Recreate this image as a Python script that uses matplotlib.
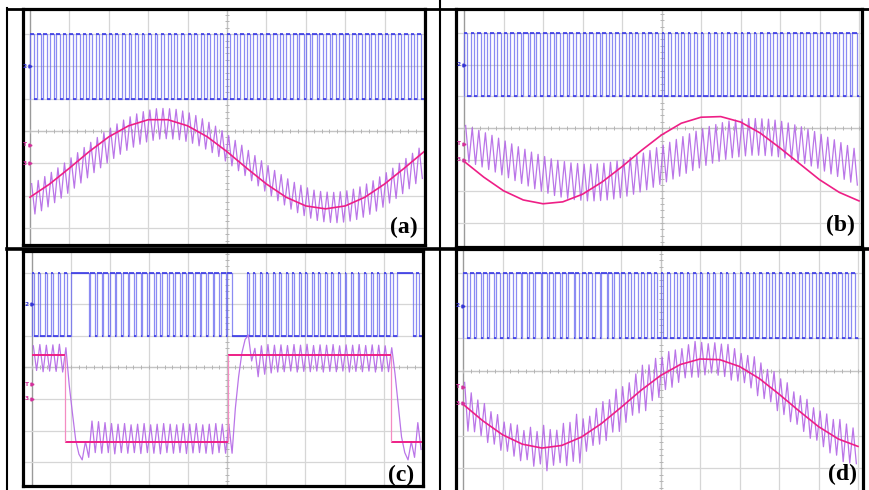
import numpy as np
import matplotlib.pyplot as plt
from matplotlib.lines import Line2D

# ---- data (scope divisions) ----
t_ref = [0.5 * i for i in range(21)]          # reference sampled every 0.5 div

ref_a = [-2.05, -1.64, -1.15, -0.64, -0.18, 0.16, 0.35, 0.35, 0.16, -0.18, -0.64,
         -1.15, -1.64, -2.05, -2.32, -2.41, -2.32, -2.05, -1.64, -1.15, -0.64]
ref_b = [-1.05, -1.55, -1.98, -2.27, -2.39, -2.33, -2.09, -1.70, -1.22, -0.70, -0.22,
         0.15, 0.34, 0.36, 0.19, -0.16, -0.63, -1.13, -1.63, -2.03, -2.30]
ref_d = [-1.03, -1.54, -1.97, -2.26, -2.38, -2.30, -2.04, -1.63, -1.13, -0.61, -0.15,
         0.19, 0.36, 0.34, 0.13, -0.24, -0.72, -1.23, -1.72, -2.10, -2.33]

# (c): square reference, switching times and levels
ref_c_t = [0.0, 0.86, 5.01, 9.19, 10.0]
ref_c_lv = [0.39, -2.37, 0.39, -2.37]

# output current: mid value of each of the 60 ripple cycles
cur_a = [-2.10, -2.00, -1.88, -1.75, -1.61, -1.46, -1.30, -1.14, -0.98, -0.82,
         -0.67, -0.52, -0.38, -0.25, -0.13, -0.03, 0.06, 0.13, 0.18, 0.22,
         0.23, 0.22, 0.20, 0.15, 0.09, 0.01, -0.09, -0.20, -0.32, -0.46,
         -0.61, -0.76, -0.91, -1.07, -1.23, -1.39, -1.54, -1.69, -1.82, -1.95,
         -2.06, -2.15, -2.23, -2.30, -2.34, -2.36, -2.37, -2.35, -2.32, -2.27,
         -2.20, -2.11, -2.01, -1.89, -1.76, -1.62, -1.47, -1.32, -1.16, -1.00]
cur_b = [-0.50, -0.57, -0.65, -0.73, -0.81, -0.90, -0.99, -1.08, -1.17, -1.25,
         -1.34, -1.41, -1.48, -1.55, -1.60, -1.64, -1.68, -1.70, -1.72, -1.72,
         -1.71, -1.69, -1.66, -1.62, -1.57, -1.51, -1.44, -1.37, -1.29, -1.20,
         -1.12, -1.03, -0.94, -0.85, -0.76, -0.68, -0.60, -0.53, -0.47, -0.41,
         -0.36, -0.33, -0.30, -0.28, -0.28, -0.29, -0.30, -0.33, -0.37, -0.42,
         -0.48, -0.54, -0.62, -0.69, -0.78, -0.87, -0.95, -1.04, -1.13, -1.22]
cur_d = [-1.11, -1.28, -1.45, -1.61, -1.76, -1.90, -2.03, -2.13, -2.22, -2.29,
         -2.34, -2.37, -2.38, -2.36, -2.33, -2.27, -2.19, -2.09, -1.98, -1.85,
         -1.71, -1.55, -1.39, -1.22, -1.04, -0.87, -0.70, -0.53, -0.37, -0.22,
         -0.08, 0.04, 0.14, 0.23, 0.30, 0.35, 0.37, 0.38, 0.36, 0.32,
         0.26, 0.18, 0.08, -0.03, -0.17, -0.31, -0.46, -0.63, -0.80, -0.97,
         -1.15, -1.32, -1.48, -1.64, -1.79, -1.93, -2.05, -2.15, -2.24, -2.31]
swing_a = [0.47] * 60
swing_b = [0.58] * 60
swing_d = [0.75, 0.6, 0.55, 0.6, 0.5, 0.55, 0.45, 0.5, 0.55, 0.45,
           0.6, 0.5, 0.7, 0.55, 0.5, 0.65, 0.6, 0.75, 0.5, 0.45,
           0.55, 0.6, 0.5, 0.65, 0.55, 0.5, 0.6, 0.7, 0.55, 0.6,
           0.5, 0.55, 0.5, 0.45, 0.5, 0.55, 0.5, 0.45, 0.5, 0.5,
           0.55, 0.5, 0.45, 0.5, 0.6, 0.55, 0.5, 0.6, 0.55, 0.6,
           0.5, 0.55, 0.6, 0.5, 0.55, 0.6, 0.55, 0.65, 0.6, 0.55]

# (c): ripple peaks / troughs listed directly (transients included)
c_hi = [0.68, 0.72, 0.70, 0.71, 0.73, 0.62, -1.45, -2.75, -2.35, -1.70,
        -1.72, -1.75, -1.78, -1.80, -1.78, -1.82, -1.80, -1.78, -1.82, -1.80,
        -1.78, -1.80, -1.82, -1.78, -1.80, -1.78, -1.82, -1.80, -1.78, -1.80,
        -1.80, -1.30, 0.45, 1.02, 0.60, 0.68, 0.72, 0.70, 0.71, 0.69,
        0.72, 0.70, 0.73, 0.69, 0.71, 0.70, 0.72, 0.68, 0.71, 0.70,
        0.72, 0.69, 0.71, 0.70, 0.68, 0.62, -1.20, -2.70, -2.35, -1.75]
c_lo = [-0.10, -0.14, -0.12, -0.13, -0.15, -0.55, -2.30, -2.93, -2.85, -2.70,
        -2.72, -2.70, -2.74, -2.70, -2.72, -2.70, -2.73, -2.70, -2.72, -2.74,
        -2.70, -2.72, -2.70, -2.73, -2.71, -2.70, -2.72, -2.74, -2.70, -2.72,
        -2.72, -0.30, 0.88, 0.20, -0.30, -0.22, -0.18, -0.15, -0.14, -0.12,
        -0.15, -0.13, -0.14, -0.12, -0.15, -0.13, -0.14, -0.12, -0.15, -0.13,
        -0.14, -0.12, -0.15, -0.13, -0.14, -0.20, -2.20, -2.93, -2.85, -2.60]

# gate signal: duty of each of the 60 switching periods
duty_a = [0.6, 0.6, 0.55, 0.6, 0.55, 0.55, 0.5, 0.55, 0.5, 0.5, 0.45, 0.5,
          0.45, 0.45, 0.4, 0.45, 0.4, 0.4, 0.4, 0.4, 0.35, 0.4, 0.4, 0.4,
          0.45, 0.4, 0.45, 0.45, 0.5, 0.45, 0.5, 0.5, 0.55, 0.5, 0.55, 0.55,
          0.6, 0.55, 0.6, 0.6, 0.6, 0.65, 0.6, 0.65, 0.6, 0.65, 0.6, 0.6,
          0.6, 0.6, 0.55, 0.6, 0.55, 0.55, 0.5, 0.55, 0.5, 0.5, 0.45, 0.5]
duty_b = [0.5, 0.55, 0.55, 0.55, 0.6, 0.55, 0.6, 0.6, 0.6, 0.65, 0.6, 0.6,
          0.65, 0.6, 0.65, 0.6, 0.6, 0.6, 0.6, 0.55, 0.6, 0.55, 0.55, 0.5,
          0.55, 0.5, 0.5, 0.45, 0.5, 0.45, 0.45, 0.4, 0.45, 0.4, 0.4, 0.4,
          0.35, 0.4, 0.4, 0.35, 0.4, 0.4, 0.4, 0.45, 0.4, 0.45, 0.45, 0.5,
          0.5, 0.5, 0.55, 0.5, 0.55, 0.55, 0.6, 0.55, 0.6, 0.6, 0.6, 0.65]
duty_c = [0.3, 0.3, 0.3, 0.3, 0.3, 0.4, 1.0, 1.0, 0.75, 0.75, 0.75, 0.75,
          0.75, 0.75, 0.75, 0.75, 0.75, 0.75, 0.75, 0.75, 0.75, 0.75, 0.75, 0.75,
          0.75, 0.75, 0.75, 0.75, 0.75, 0.75, 0.7, 0.0, 0.0, 0.3, 0.3, 0.3,
          0.3, 0.3, 0.3, 0.3, 0.3, 0.3, 0.3, 0.3, 0.3, 0.3, 0.3, 0.3,
          0.3, 0.3, 0.3, 0.3, 0.3, 0.3, 0.3, 0.4, 1.0, 1.0, 0.5, 0.5]
duty_d = [0.55, 0.6, 0.7, 0.6, 0.65, 0.6, 0.7, 0.6, 0.75, 0.65, 0.7, 0.8,
          0.7, 0.65, 0.75, 0.7, 0.9, 0.65, 0.7, 0.6, 0.75, 0.85, 0.6, 0.65,
          0.6, 0.55, 0.6, 0.5, 0.55, 0.5, 0.45, 0.4, 0.45, 0.35, 0.4, 0.35,
          0.3, 0.35, 0.3, 0.35, 0.3, 0.35, 0.35, 0.4, 0.35, 0.4, 0.45, 0.4,
          0.5, 0.45, 0.5, 0.55, 0.5, 0.55, 0.6, 0.55, 0.6, 0.6, 0.55, 0.6]
gate_lo, gate_hi = 1.0, 3.0
labels = ["(a)", "(b)", "(c)", "(d)"]

BLUE = "#6464f0"
BLUE_DARK = "#3c3ce4"
PURPLE = "#b366e6"
PINK = "#ee1f86"
W, H = 869, 490

fig = plt.figure(figsize=(W / 100, H / 100), dpi=100)


def gate_wave(duty):
    ev = []
    for k, d in enumerate(duty):
        if d > 0:
            ev.append((k / 6, gate_hi))
        if d < 1:
            ev.append((k / 6 + d / 6, gate_lo))
    xs, ys, lv = [0.0], [gate_lo], gate_lo
    for t, v in ev:
        if v != lv:
            xs += [t, t]
            ys += [lv, v]
            lv = v
    xs.append(10.0)
    ys.append(lv)
    return xs, ys


def ripple(hi, lo):
    xs, ys = [], []
    for k, (h, l) in enumerate(zip(hi, lo)):
        xs += [(k + 0.25) / 6, (k + 0.75) / 6]
        ys += [h, l]
    return xs, ys


def marker(ax, y, txt, color):
    ax.annotate(txt, xy=(0, y), xytext=(-2.2, 0), textcoords="offset points",
                ha="right", va="center", fontsize=4.2, fontweight="bold",
                color=color, annotation_clip=False, zorder=6)
    ax.plot([0], [y], marker=">", ms=2.2, color=color, clip_on=False,
            zorder=6, ls="none")


def panel(box, x0, sx, yc, sy, tmark):
    l, t, r, b = box
    ax = fig.add_axes([l / W, 1 - b / H, (r - l) / W, (b - t) / H])
    ax.set_xlim((l - x0) / sx, (r - x0) / sx)
    ax.set_ylim((yc - b) / sy, (yc - t) / sy)
    ax.set_xticks([])
    ax.set_yticks([])
    for s in ax.spines.values():
        s.set_linewidth(2.3)
        s.set_color("black")
        s.set_zorder(5)
    for i in range(1, 11):
        ax.axvline(i, color="#d6d6d6", lw=0.9, zorder=0)
    ax.axvline(0, color="#9a9a9a", lw=1.0, zorder=0)
    for j in range(-4, 5):
        ax.axhline(j, color="#d6d6d6", lw=0.9, zorder=0)
    ax.axhline(0, color="#c4c4c4", lw=0.9, zorder=0)
    ax.axvline(5, color="#c4c4c4", lw=0.9, zorder=0)
    ax.plot(np.arange(0, 10.01, 0.2), np.zeros(51), ls="none", marker="|",
            ms=3, mew=0.7, color="#b5b5b5", zorder=0)
    ax.plot(np.full(41, 5.0), np.arange(-4, 4.01, 0.2), ls="none", marker="_",
            ms=3, mew=0.7, color="#b5b5b5", zorder=0)
    marker(ax, 2, "2", "#3535d5")
    marker(ax, tmark, "T", "#d2309a")
    marker(ax, -1, "3", "#d2309a")
    return ax


# panel geometry in pixels: border box, scope origin and division sizes
geo = [((23, 9.5, 425, 245.5), 30.0, 39.4, 131.0, 32.3, -0.43),
       ((456, 9.0, 862, 246.5), 464.0, 39.5, 128.0, 31.7, -0.5),
       ((23, 251.5, 423, 486), 31.7, 39.1, 367.3, 31.6, -0.53),
       ((456, 249.0, 863, 494), 463.0, 39.5, 370.7, 32.5, -0.5)]
axs = [panel(*g) for g in geo]

for ax, duty in zip(axs, [duty_a, duty_b, duty_c, duty_d]):
    gx, gy = gate_wave(duty)
    ax.plot(gx, gy, color=BLUE, lw=0.9, alpha=0.75, zorder=2)
    # flat parts of the gate trace show darker on the scope
    for i in range(len(gx) - 1):
        if gy[i] == gy[i + 1] and gx[i + 1] > gx[i]:
            ax.plot([gx[i], gx[i + 1]], [gy[i], gy[i]], color=BLUE_DARK,
                    lw=1.2, solid_capstyle="butt", zorder=2)

for ax, cur, sw in zip([axs[0], axs[1], axs[3]], [cur_a, cur_b, cur_d],
                       [swing_a, swing_b, swing_d]):
    hi = np.array(cur) + np.array(sw)
    lo = np.array(cur) - np.array(sw)
    rx, ry = ripple(hi, lo)
    ax.plot(rx, ry, color=PURPLE, lw=0.9, alpha=0.9, zorder=3)
rx, ry = ripple(c_hi, c_lo)
axs[2].plot(rx, ry, color=PURPLE, lw=0.9, alpha=0.9, zorder=3)

for ax, ref in zip([axs[0], axs[1], axs[3]], [ref_a, ref_b, ref_d]):
    ax.plot(t_ref, ref, color=PINK, lw=1.2, zorder=4)
axs[2].hlines(ref_c_lv, ref_c_t[:-1], ref_c_t[1:], color=PINK, lw=1.4, zorder=4)
axs[2].vlines(ref_c_t[1:-1], ref_c_lv[:-1], ref_c_lv[1:], color="#f48cc2", lw=0.9, zorder=4)

# panel letters
for lab, (px, py) in zip(labels, [(418, 227), (855, 225), (414, 475), (857, 474)]):
    fig.text(px / W, 1 - py / H, lab, ha="right", va="center", fontsize=17,
             fontweight="bold", family="Liberation Serif")

# table rules
for (x1, y1, x2, y2, lw) in [(7.3, 8, 7.3, 490, 1.5), (440, 0, 440, 490, 1.5),
                             (7, 8.7, 869, 8.7, 2.0), (7, 248.7, 869, 248.7, 2.6)]:
    fig.add_artist(Line2D([x1 / W, x2 / W], [1 - y1 / H, 1 - y2 / H],
                          transform=fig.transFigure, color="black", lw=lw))

fig.savefig("out.png", dpi=100)
